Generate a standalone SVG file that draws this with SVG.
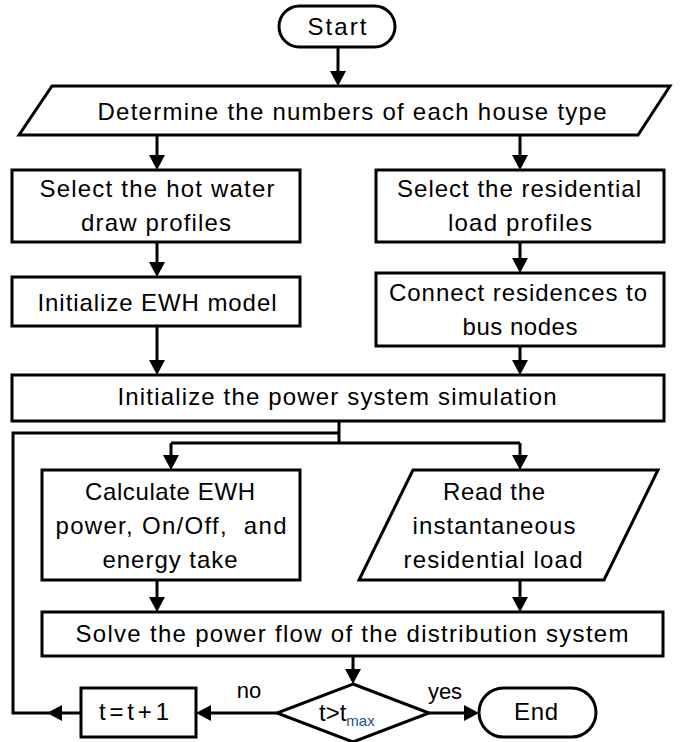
<svg xmlns="http://www.w3.org/2000/svg" width="686" height="742" viewBox="0 0 686 742">
<defs>
<style>
.s{fill:#fff;stroke:#000;stroke-width:3}
.c{fill:none;stroke:#000;stroke-width:3}
.t{font-family:"Liberation Sans",Arial,sans-serif;font-size:24px;fill:#000;text-anchor:middle}
.l{font-family:"Liberation Sans",Arial,sans-serif;font-size:22px;fill:#000;text-anchor:middle}
</style>
<marker id="ah" markerUnits="userSpaceOnUse" markerWidth="16" markerHeight="16" refX="7" refY="8" orient="auto">
<path d="M0,0 L15,8 L0,16 z" fill="#000"/>
</marker>
</defs>
<rect width="686" height="742" fill="#fff"/>
<g id="connectors">
<line class="c" x1="338" y1="47" x2="338" y2="78" marker-end="url(#ah)"/>
<line class="c" x1="157" y1="135" x2="157" y2="162" marker-end="url(#ah)"/>
<line class="c" x1="520" y1="135" x2="520" y2="162" marker-end="url(#ah)"/>
<line class="c" x1="157" y1="242" x2="157" y2="269" marker-end="url(#ah)"/>
<line class="c" x1="520" y1="242" x2="520" y2="265" marker-end="url(#ah)"/>
<line class="c" x1="157" y1="326" x2="157" y2="367" marker-end="url(#ah)"/>
<line class="c" x1="520" y1="346" x2="520" y2="367" marker-end="url(#ah)"/>
<path class="c" d="M339,421 V443 M171,443 H520"/>
<line class="c" x1="171" y1="443" x2="171" y2="462" marker-end="url(#ah)"/>
<line class="c" x1="520" y1="443" x2="520" y2="462" marker-end="url(#ah)"/>
<line class="c" x1="157" y1="580" x2="157" y2="604" marker-end="url(#ah)"/>
<line class="c" x1="520" y1="580" x2="520" y2="604" marker-end="url(#ah)"/>
<line class="c" x1="353" y1="656" x2="353" y2="676" marker-end="url(#ah)"/>
<line class="c" x1="277" y1="713" x2="204" y2="713" marker-end="url(#ah)"/>
<line class="c" x1="429" y1="713" x2="471" y2="713" marker-end="url(#ah)"/>
<line class="c" x1="81" y1="713" x2="55" y2="713" marker-end="url(#ah)"/>
<path class="c" d="M50,713 H13 V433 H339"/>
</g>
<g id="start">
<rect class="s" x="279" y="6" width="116" height="41" rx="20.5"/>
<text class="t" x="337" y="35" textLength="59">Start</text>
</g>
<g id="determine">
<polygon class="s" points="52,86 670,86 638,135 19,135"/>
<text class="t" x="352" y="120" textLength="509">Determine the numbers of each house type</text>
</g>
<g id="select-hot-water">
<rect class="s" x="12" y="170" width="288" height="72"/>
<text class="t" x="157" y="197" textLength="235">Select the hot water</text>
<text class="t" x="156" y="231" textLength="150">draw profiles</text>
</g>
<g id="select-residential">
<rect class="s" x="376" y="170" width="288" height="72"/>
<text class="t" x="519" y="197" textLength="244">Select the residential</text>
<text class="t" x="520" y="231" textLength="144">load profiles</text>
</g>
<g id="init-ewh">
<rect class="s" x="12" y="277" width="288" height="49"/>
<text class="t" x="157" y="311" textLength="239">Initialize EWH model</text>
</g>
<g id="connect-residences">
<rect class="s" x="376" y="273" width="288" height="73"/>
<text class="t" x="518" y="301" textLength="258">Connect residences to</text>
<text class="t" x="520" y="335" textLength="115">bus nodes</text>
</g>
<g id="init-power">
<rect class="s" x="12" y="375" width="652" height="46"/>
<text class="t" x="337" y="405" textLength="439">Initialize the power system simulation</text>
</g>
<g id="calculate">
<rect class="s" x="42" y="470" width="258" height="110"/>
<text class="t" x="170" y="500" textLength="170">Calculate EWH</text>
<text class="t" x="171" y="534" textLength="231" xml:space="preserve">power, On/Off,  and</text>
<text class="t" x="170" y="568" textLength="135">energy take</text>
</g>
<g id="read-load">
<polygon class="s" points="413,470 658,470 604,580 359,580"/>
<text class="t" x="494" y="500" textLength="102">Read the</text>
<text class="t" x="494" y="534" textLength="163">instantaneous</text>
<text class="t" x="493" y="568" textLength="179">residential load</text>
</g>
<g id="solve">
<rect class="s" x="42" y="612" width="621" height="44"/>
<text class="t" x="352" y="642" textLength="553">Solve the power flow of the distribution system</text>
</g>
<g id="decision">
<polygon class="s" points="353,684 429,713 353,742 277,713"/>
<text x="319" y="721" font-family="Liberation Sans, Arial, sans-serif" font-size="24" fill="#000">t&gt;t<tspan font-size="15" dy="5" fill="#1f4e8c">max</tspan></text>
</g>
<g id="increment">
<rect class="s" x="81" y="688" width="115" height="49"/>
<text class="t" x="134" y="720" textLength="70">t=t+1</text>
</g>
<g id="end">
<rect class="s" x="479" y="688" width="117" height="49" rx="24.5"/>
<text class="t" x="536" y="720" textLength="44">End</text>
</g>
<g id="labels">
<text class="l" x="249" y="698">no</text>
<text class="l" x="445" y="699">yes</text>
</g>
</svg>
